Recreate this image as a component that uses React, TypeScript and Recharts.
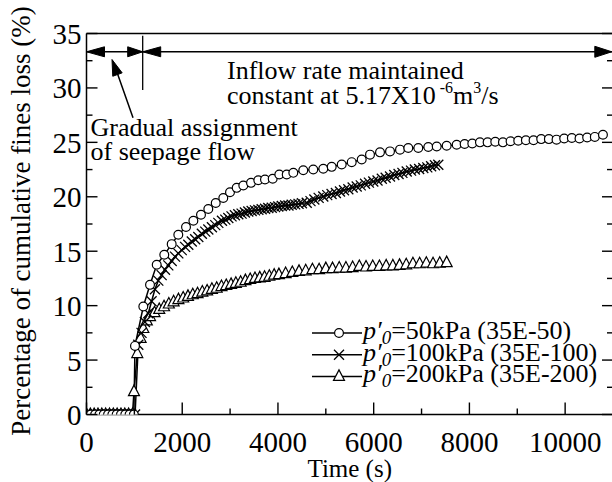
import React from 'react';
import { LineChart, Line, XAxis, YAxis, ReferenceLine, ReferenceDot } from 'recharts';

const FONT = "'Liberation Serif', 'Times New Roman', Times, serif";

// ---------- data (time in s, cumulative fines loss in %) ----------
const t50 = [0, 90, 180, 270, 360, 450, 540, 630, 720, 810, 900, 990,
  1013, 1187, 1327, 1467, 1625, 1780, 1918, 2079, 2233, 2392, 2545, 2700, 2858, 2998, 3138, 3276, 3437, 3589, 3729, 3890,
  4028, 4183, 4321, 4529, 4738, 4947, 5123, 5332, 5541, 5750, 5923, 6132, 6341, 6550, 6723, 6932, 7141, 7317, 7525, 7734,
  7900, 8060, 8220, 8380, 8540, 8700, 8860, 9020, 9180, 9340, 9500, 9660, 9820, 9980, 10140, 10300, 10460, 10620, 10790];
const v50 = [0, 0, 0, 0, 0, 0, 0, 0, 0, 0, 0, 0,
  6.3, 9.92, 11.91, 13.75, 14.67, 15.65, 16.51, 17.22, 17.8, 18.35, 18.88, 19.43, 19.89, 20.41, 20.82, 21.03, 21.28, 21.52, 21.59, 21.65,
  22.05, 22.05, 22.2, 22.44, 22.51, 22.57, 22.75, 22.97, 23.18, 23.43, 23.87, 24.08, 24.17, 24.33, 24.48, 24.48, 24.57, 24.62, 24.69, 24.78,
  24.85, 24.9, 25.0, 25.0, 25.05, 25.0, 25.1, 25.15, 25.2, 25.2, 25.3, 25.3, 25.25, 25.35, 25.4, 25.35, 25.45, 25.5, 25.7];

const t100 = [0, 85, 170, 255, 340, 425, 510, 595, 680, 765, 850, 935, 1015,
  1082, 1150, 1220, 1291, 1360, 1430, 1500, 1570, 1640, 1709, 1780, 1850, 1918, 1990, 2060, 2127, 2200, 2270, 2336, 2410, 2480, 2545,
  2620, 2690, 2754, 2830, 2900, 2963, 3030, 3100, 3171, 3240, 3310, 3380, 3450, 3520, 3590, 3660, 3730, 3798, 3870, 3940, 4007,
  4080, 4150, 4220, 4287, 4360, 4430, 4500, 4601, 4680, 4760, 4850, 4947, 5030, 5120, 5210, 5296, 5380, 5470, 5560, 5645,
  5730, 5820, 5900, 5992, 6080, 6170, 6250, 6341, 6430, 6520, 6600, 6690, 6780, 6860, 6950, 7037, 7120, 7200, 7280, 7350];
const v100 = [0, 0, 0, 0, 0, 0, 0, 0, 0, 0, 0, 0, 0,
  6.4, 7.5, 8.5, 9.3, 10.4, 11.5, 12.3, 12.8, 13.3, 13.7, 14.1, 14.5, 14.8, 15.1, 15.4, 15.6, 15.9, 16.1, 16.3, 16.6, 16.8, 17.0,
  17.2, 17.4, 17.6, 17.8, 17.9, 18.05, 18.2, 18.3, 18.4, 18.45, 18.55, 18.65, 18.7, 18.75, 18.8, 18.85, 18.9, 18.97, 19.0, 19.05, 19.1,
  19.15, 19.2, 19.2, 19.27, 19.3, 19.35, 19.4, 19.45, 19.6, 19.75, 19.9, 20.03, 20.15, 20.25, 20.35, 20.49, 20.6, 20.7, 20.85, 20.95,
  21.05, 21.2, 21.3, 21.41, 21.5, 21.65, 21.75, 21.87, 22.0, 22.1, 22.2, 22.33, 22.4, 22.5, 22.55, 22.65, 22.7, 22.8, 22.9, 22.95];

const t200 = [0, 80, 160, 240, 320, 400, 480, 560, 640, 720, 800, 880, 960,
  992, 1061, 1130, 1187, 1260, 1327, 1420, 1520, 1620, 1720, 1820, 1920, 2020, 2120, 2220, 2320, 2420, 2520, 2620, 2720, 2820, 2920,
  3020, 3120, 3220, 3320, 3420, 3520, 3620, 3720, 3820, 3920, 4020, 4160, 4300, 4440, 4580, 4720, 4860, 5000, 5140, 5280, 5420,
  5560, 5700, 5840, 5980, 6120, 6260, 6400, 6540, 6680, 6820, 6960, 7100, 7240, 7380, 7525];
const v200 = [0, 0, 0, 0, 0, 0, 0, 0, 0, 0, 0, 0, 0,
  2.1, 5.6, 7.0, 7.9, 8.6, 9.0, 9.35, 9.65, 9.9, 10.15, 10.35, 10.55, 10.7, 10.85, 11.0, 11.1, 11.25, 11.35, 11.5, 11.6, 11.75, 11.85,
  11.95, 12.05, 12.15, 12.3, 12.4, 12.5, 12.55, 12.6, 12.7, 12.8, 12.85, 12.95, 13.05, 13.15, 13.2, 13.3, 13.3, 13.4, 13.4, 13.45, 13.45,
  13.5, 13.6, 13.55, 13.6, 13.6, 13.65, 13.65, 13.7, 13.75, 13.85, 13.85, 13.9, 13.85, 13.9, 13.95];

const seriesLabels = ['=50kPa (35E-50)', '=100kPa (35E-100)', '=200kPa (35E-200)'];
const xTicks = [0, 1000, 2000, 3000, 4000, 5000, 6000, 7000, 8000, 9000, 10000, 11000];
const yTicks = [0, 2.5, 5, 7.5, 10, 12.5, 15, 17.5, 20, 22.5, 25, 27.5, 30, 32.5, 35];

const toPts = (ts: number[], vs: number[]) => ts.map((t, i) => ({ t, v: vs[i] }));
const d50 = toPts(t50, v50);
const d100 = toPts(t100, v100);
const d200 = toPts(t200, v200);

// ---------- markers ----------
const circleEl = (cx: number, cy: number, key?: any) => (
  <circle key={key} cx={cx} cy={cy} r={4.4} fill="#fff" stroke="#000" strokeWidth={1.2} />
);
const crossEl = (cx: number, cy: number, key?: any) => (
  <g key={key}>
    <line x1={cx - 5} y1={cy - 5} x2={cx + 5} y2={cy + 5} stroke="#000" strokeWidth={1.3} />
    <line x1={cx - 5} y1={cy + 5} x2={cx + 5} y2={cy - 5} stroke="#000" strokeWidth={1.3} />
  </g>
);
const triEl = (cx: number, cy: number, key?: any) => (
  <polygon key={key} points={`${cx},${cy - 6.5} ${cx - 5.5},${cy + 4} ${cx + 5.5},${cy + 4}`} fill="#fff" stroke="#000" strokeWidth={1.2} />
);
const dotFn = (fn: any) => (p: any) => (p.cx == null || p.cy == null ? <g key={p.index} /> : fn(p.cx, p.cy, p.index));

// ---------- ticks ----------
const tickText = { fontSize: 29, fontFamily: FONT, fill: '#000' };
const LeftTick = (p: any) => {
  const v = p.payload.value;
  const major = v % 5 === 0;
  return (
    <g>
      <line x1={p.x} x2={p.x + (major ? 11 : 6)} y1={p.y} y2={p.y} stroke="#000" strokeWidth={1.4} />
      {major && <text x={p.x - 5} y={p.y} dy="0.36em" textAnchor="end" {...tickText}>{v}</text>}
    </g>
  );
};
const RightTick = (p: any) => {
  const v = p.payload.value;
  const major = v % 5 === 0;
  return <line x1={p.x} x2={p.x - (major ? 11 : 6)} y1={p.y} y2={p.y} stroke="#000" strokeWidth={1.4} />;
};
const BottomTick = (p: any) => {
  const v = p.payload.value;
  const major = v % 2000 === 0;
  return (
    <g>
      <line x1={p.x} x2={p.x} y1={p.y} y2={p.y - (major ? 12 : 6)} stroke="#000" strokeWidth={1.4} />
      {major && <text x={p.x} y={p.y + 37} textAnchor="middle" {...tickText}>{v}</text>}
    </g>
  );
};
const TopTick = (p: any) => {
  const v = p.payload.value;
  const major = v % 2000 === 0;
  return <line x1={p.x} x2={p.x} y1={p.y} y2={p.y + (major ? 12 : 6)} stroke="#000" strokeWidth={1.4} />;
};

// ---------- annotation shapes ----------
const arrowHead = (angleDeg: number, len: number, half: number) => (p: any) => {
  const a = (angleDeg * Math.PI) / 180;
  const ux = Math.cos(a), uy = Math.sin(a);
  const bx = p.cx - ux * len, by = p.cy - uy * len;
  const pts = `${p.cx},${p.cy} ${bx - uy * half},${by + ux * half} ${bx + uy * half},${by - ux * half}`;
  return <polygon points={pts} fill="#000" stroke="#000" strokeWidth={1} />;
};
const annText = { fontSize: 26, fontFamily: FONT, fill: '#000' };
const textShape = (content: React.ReactNode) => (p: any) => (
  <text x={p.cx} y={p.cy} {...annText}>{content}</text>
);

const AXIS = { stroke: '#000', strokeWidth: 1.5 };
const ARROW_Y = 33.32;
const SPLIT_T = 1174;

export default function App() {
  const legendMarkers = [circleEl, crossEl, triEl];
  return (
    <div style={{ position: 'absolute', left: 0, top: 0, width: 612, height: 482, overflow: 'hidden', background: '#fff' }}>
      <LineChart width={640} height={482} margin={{ top: 3.5, right: 7, bottom: 0, left: 26.5 }}>
        <XAxis
          type="number" dataKey="t" domain={[0, 11000]} ticks={xTicks} interval={0} allowDataOverflow
          tick={(p: any) => <BottomTick {...p} />} tickSize={0} tickMargin={0} tickLine={false}
          axisLine={AXIS} height={67.5}
          label={{ value: 'Time (s)', position: 'insideBottom', offset: 5, fontSize: 25, fontFamily: FONT, fill: '#000' }}
        />
        <XAxis
          xAxisId="top" orientation="top" type="number" domain={[0, 11000]} ticks={xTicks} interval={0} allowDataOverflow
          tick={(p: any) => <TopTick {...p} />} tickSize={0} tickMargin={0} tickLine={false} axisLine={AXIS} height={30}
        />
        <YAxis
          type="number" domain={[0, 35]} ticks={yTicks} interval={0} allowDataOverflow
          tick={(p: any) => <LeftTick {...p} />} tickSize={0} tickMargin={0} tickLine={false} axisLine={AXIS} width={60}
        />
        <YAxis
          yAxisId="right" orientation="right" type="number" domain={[0, 35]} ticks={yTicks} interval={0} allowDataOverflow
          tick={(p: any) => <RightTick {...p} />} tickSize={0} tickMargin={0} tickLine={false} axisLine={AXIS} width={20}
        />

        <Line data={d200} dataKey="v" type="linear" stroke="#000" strokeWidth={1.5} dot={dotFn(triEl)} activeDot={false} isAnimationActive={false} />
        <Line data={d100} dataKey="v" type="linear" stroke="#000" strokeWidth={1.5} dot={dotFn(crossEl)} activeDot={false} isAnimationActive={false} />
        <Line data={d50} dataKey="v" type="linear" stroke="#000" strokeWidth={1.5} dot={dotFn(circleEl)} activeDot={false} isAnimationActive={false} />

        {/* phase arrows */}
        <ReferenceLine segment={[{ x: 0, y: ARROW_Y }, { x: 11000, y: ARROW_Y }]} stroke="#000" strokeWidth={1.5} ifOverflow="visible" />
        <ReferenceLine segment={[{ x: SPLIT_T, y: 29.8 }, { x: SPLIT_T, y: 34.8 }]} stroke="#000" strokeWidth={1.3} ifOverflow="visible" />
        <ReferenceDot x={0} y={ARROW_Y} ifOverflow="visible" shape={arrowHead(180, 18, 5)} />
        <ReferenceDot x={SPLIT_T} y={ARROW_Y} ifOverflow="visible" shape={arrowHead(0, 15, 5)} />
        <ReferenceDot x={SPLIT_T} y={ARROW_Y} ifOverflow="visible" shape={arrowHead(180, 18, 5)} />
        <ReferenceDot x={10975} y={ARROW_Y} ifOverflow="visible" shape={arrowHead(0, 17, 5.5)} />

        {/* pointer arrow */}
        <ReferenceLine segment={[{ x: 972, y: 27.27 }, { x: 600, y: 31.9 }]} stroke="#000" strokeWidth={1.5} ifOverflow="visible" />
        <ReferenceDot x={533} y={32.61} ifOverflow="visible" shape={arrowHead(-109.9, 16, 5)} />

        {/* texts */}
        <ReferenceDot x={2935} y={30.86} ifOverflow="visible" shape={textShape('Inflow rate maintained')} />
        <ReferenceDot
          x={2935} y={28.56} ifOverflow="visible"
          shape={textShape(
            <>
              constant at 5.17X10
              <tspan fontSize={16} dy={-11}> -6</tspan>
              <tspan dy={11}>m</tspan>
              <tspan fontSize={16} dy={-11}>3</tspan>
              <tspan dy={11}>/s</tspan>
            </>
          )}
        />
        <ReferenceDot x={84} y={25.62} ifOverflow="visible" shape={textShape('Gradual assignment')} />
        <ReferenceDot x={84} y={23.41} ifOverflow="visible" shape={textShape('of seepage flow')} />
      </LineChart>

      <svg width={612} height={482} style={{ position: 'absolute', left: 0, top: 0, pointerEvents: 'none' }}>
        <text transform="translate(30,221) rotate(-90)" textAnchor="middle" fontSize={27} fontFamily={FONT} fill="#000">
          Percentage of cumulative fines loss (%)
        </text>
        {seriesLabels.map((lab, i) => {
          const y = 333 + i * 21.7;
          return (
            <g key={lab}>
              <line x1={312} x2={362} y1={y} y2={y} stroke="#000" strokeWidth={1.5} />
              {legendMarkers[i](339, y)}
              <text x={363} y={y + 6} fontSize={26} fontFamily={FONT} fill="#000">
                <tspan fontStyle="italic">p′</tspan>
                <tspan fontStyle="italic" fontSize={19} dy={5}>0</tspan>
                <tspan dy={-5}>{lab}</tspan>
              </text>
            </g>
          );
        })}
      </svg>
    </div>
  );
}
